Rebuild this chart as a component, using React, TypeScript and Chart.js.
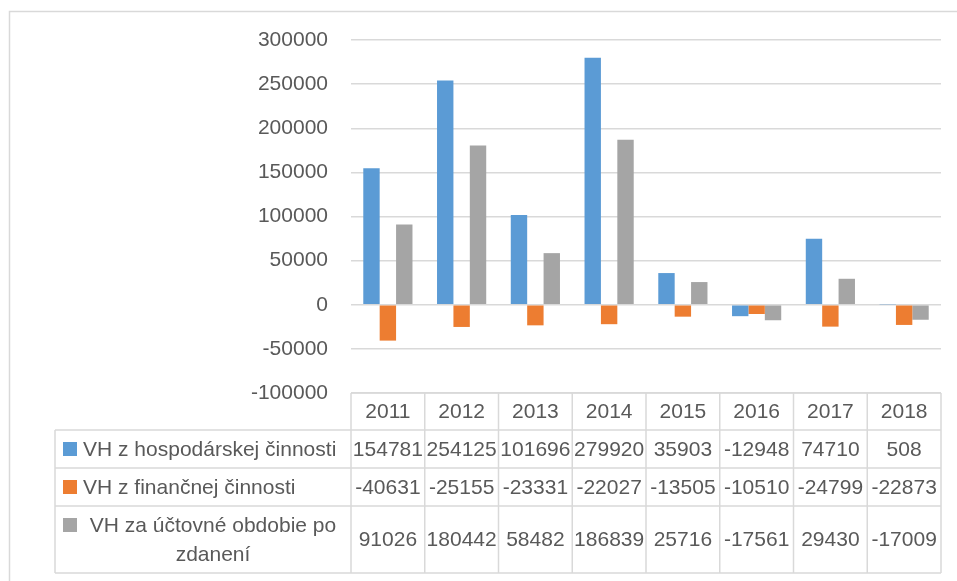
import React, { useEffect, useRef } from "react";
import { Chart, registerables } from "chart.js";

Chart.register(...registerables);

const years = ["2011", "2012", "2013", "2014", "2015", "2016", "2017", "2018"];
const hospodarska = [154781, 254125, 101696, 279920, 35903, -12948, 74710, 508];
const financna = [-40631, -25155, -23331, -22027, -13505, -10510, -24799, -22873];
const poZdaneni = [91026, 180442, 58482, 186839, 25716, -17561, 29430, -17009];
const seriesNames = [
  "VH z hospodárskej činnosti",
  "VH z finančnej činnosti",
  "VH za účtovné obdobie po zdanení",
];
const seriesColors = ["#5B9BD5", "#ED7D31", "#A5A5A5"];
const yMin = -100000;
const yMax = 300000;
const yStep = 50000;

const FONT = "21px 'Liberation Sans', Arial, sans-serif";
const TEXT = "#595959";
const LINE = "#D9D9D9";

const tablePlugin = {
  id: "dataTable",
  beforeDraw(chart: any) {
    const ctx = chart.ctx;
    ctx.save();
    ctx.strokeStyle = LINE;
    ctx.lineWidth = 1.5;
    ctx.strokeRect(9.5, 11.5, 1100, 1100);
    ctx.restore();
  },
  afterDraw(chart: any) {
    const ctx = chart.ctx;
    const xs = chart.scales.x;
    const ys = chart.scales.y;
    const area = chart.chartArea;
    const n = years.length;
    const colW = (area.right - area.left) / n;
    const headTop = ys.getPixelForValue(yMin);
    const rowEdges = [headTop, headTop + 37, headTop + 75, headTop + 113, headTop + 180];
    const tableLeft = 55;
    const keyLeft = 63;
    const textLeft = 83;
    const textRight = 343;
    const allSeries = [hospodarska, financna, poZdaneni];

    ctx.save();
    ctx.strokeStyle = LINE;
    ctx.lineWidth = 1.5;
    ctx.beginPath();
    ctx.moveTo(area.left, rowEdges[0]);
    ctx.lineTo(area.right, rowEdges[0]);
    for (let r = 1; r < rowEdges.length; r++) {
      ctx.moveTo(tableLeft, rowEdges[r]);
      ctx.lineTo(area.right, rowEdges[r]);
    }
    for (let c = 0; c <= n; c++) {
      const x = area.left + c * colW;
      ctx.moveTo(x, rowEdges[0]);
      ctx.lineTo(x, rowEdges[4]);
    }
    ctx.moveTo(tableLeft, rowEdges[1]);
    ctx.lineTo(tableLeft, rowEdges[4]);
    ctx.stroke();

    ctx.font = FONT;
    ctx.fillStyle = TEXT;
    ctx.textBaseline = "middle";
    ctx.textAlign = "center";
    years.forEach((y, i) => {
      ctx.fillText(y, xs.getPixelForValue(i), (rowEdges[0] + rowEdges[1]) / 2 + 1);
    });
    allSeries.forEach((vals, s) => {
      const top = rowEdges[s + 1];
      const bot = rowEdges[s + 2];
      const mid = (top + bot) / 2;
      ctx.textAlign = "center";
      ctx.fillStyle = TEXT;
      vals.forEach((v, i) => {
        ctx.fillText(String(v), xs.getPixelForValue(i), mid + 1);
      });
      const words = seriesNames[s].split(" ");
      const lines: string[] = [];
      let cur = "";
      words.forEach((w) => {
        const test = cur ? cur + " " + w : w;
        if (ctx.measureText(test).width > textRight - textLeft && cur) {
          lines.push(cur);
          cur = w;
        } else cur = test;
      });
      if (cur) lines.push(cur);
      const lh = 29;
      const firstY = mid - ((lines.length - 1) * lh) / 2;
      ctx.fillStyle = seriesColors[s];
      ctx.fillRect(keyLeft, firstY - 7, 14, 14);
      ctx.fillStyle = TEXT;
      lines.forEach((ln, k) => {
        if (lines.length > 1) {
          ctx.textAlign = "center";
          ctx.fillText(ln, (textLeft + textRight) / 2, firstY + k * lh + 1);
        } else {
          ctx.textAlign = "left";
          ctx.fillText(ln, textLeft, firstY + 1);
        }
      });
    });
    ctx.restore();
  },
};

export default function App() {
  const ref = useRef<HTMLCanvasElement | null>(null);
  useEffect(() => {
    if (!ref.current) return;
    const chart = new Chart(ref.current, {
      type: "bar",
      data: {
        labels: years,
        datasets: [hospodarska, financna, poZdaneni].map((d, i) => ({
          label: seriesNames[i],
          data: d,
          backgroundColor: seriesColors[i],
          borderWidth: 0,
          barPercentage: 1,
          categoryPercentage: 0.667,
        })),
      },
      options: {
        animation: false,
        responsive: false,
        devicePixelRatio: 1,
        layout: { padding: { top: 40, bottom: 188, left: 0, right: 16 } },
        plugins: { legend: { display: false }, tooltip: { enabled: false } },
        scales: {
          x: { display: false },
          y: {
            min: yMin,
            max: yMax,
            afterFit: (scale: any) => {
              scale.width = 351;
            },
            ticks: {
              stepSize: yStep,
              padding: 23,
              color: TEXT,
              font: { family: "'Liberation Sans', Arial, sans-serif", size: 21 },
              callback: (v: any) => String(v),
            },
            border: { display: false },
            grid: { color: LINE, lineWidth: 1.5, drawTicks: false },
          },
        },
      },
      plugins: [tablePlugin],
    });
    return () => chart.destroy();
  }, []);
  return (
    <div style={{ position: "absolute", left: 0, top: 0, width: 957, height: 581 }}>
      <canvas ref={ref} width={957} height={581} />
    </div>
  );
}
